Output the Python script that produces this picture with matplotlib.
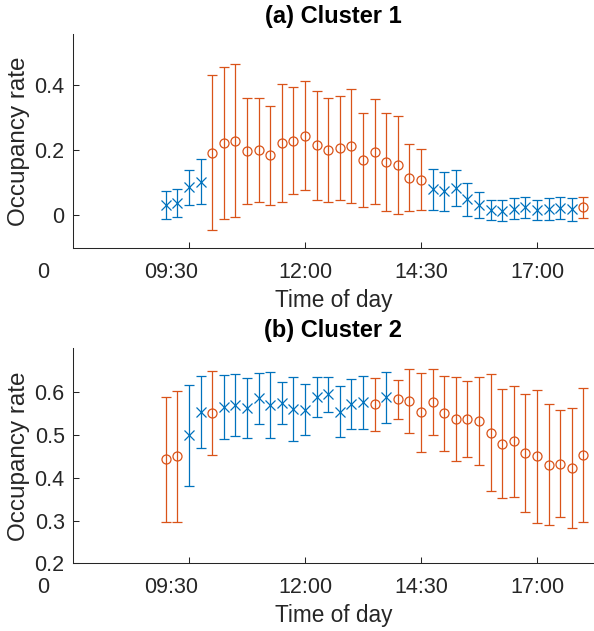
import numpy as np
import matplotlib
matplotlib.use("Agg")
import matplotlib.pyplot as plt
import matplotlib.transforms as mtransforms

plt.rcParams['font.family'] = ['Liberation Sans', 'DejaVu Sans']

# ---------------- data ----------------
times = ['09:00', '09:15', '09:30', '09:45', '10:00', '10:15', '10:30', '10:45',
         '11:00', '11:15', '11:30', '11:45', '12:00', '12:15', '12:30', '12:45',
         '13:00', '13:15', '13:30', '13:45', '14:00', '14:15', '14:30', '14:45',
         '15:00', '15:15', '15:30', '15:45', '16:00', '16:15', '16:30', '16:45',
         '17:00', '17:15', '17:30', '17:45', '18:00']

# Cluster 1
mean1 = [0.031, 0.039, 0.087, 0.103, 0.193, 0.222, 0.229, 0.197, 0.200, 0.184,
         0.222, 0.229, 0.245, 0.215, 0.200, 0.206, 0.212, 0.170, 0.196, 0.164,
         0.154, 0.116, 0.110, 0.080, 0.074, 0.085, 0.049, 0.032, 0.017, 0.015,
         0.021, 0.025, 0.017, 0.020, 0.022, 0.019, 0.025]
err1 = [0.043, 0.043, 0.054, 0.069, 0.237, 0.233, 0.235, 0.163, 0.160, 0.153,
        0.180, 0.164, 0.167, 0.168, 0.160, 0.160, 0.175, 0.144, 0.161, 0.149,
        0.150, 0.103, 0.094, 0.062, 0.060, 0.055, 0.050, 0.039, 0.031, 0.031,
        0.032, 0.033, 0.030, 0.033, 0.034, 0.036, 0.032]
group1 = (['x'] * 4) + (['o'] * 19) + (['x'] * 13) + (['o'] * 1)

# Cluster 2
mean2 = [0.443, 0.450, 0.499, 0.554, 0.552, 0.566, 0.570, 0.563, 0.586, 0.570,
         0.575, 0.561, 0.559, 0.589, 0.595, 0.555, 0.573, 0.577, 0.572, 0.588,
         0.584, 0.580, 0.553, 0.577, 0.551, 0.538, 0.538, 0.533, 0.506, 0.480,
         0.485, 0.458, 0.450, 0.431, 0.433, 0.423, 0.453]
err2 = [0.146, 0.153, 0.118, 0.085, 0.099, 0.075, 0.073, 0.071, 0.060, 0.078,
        0.050, 0.076, 0.060, 0.046, 0.042, 0.060, 0.058, 0.062, 0.062, 0.060,
        0.046, 0.074, 0.093, 0.078, 0.088, 0.098, 0.089, 0.102, 0.137, 0.127,
        0.129, 0.138, 0.155, 0.142, 0.125, 0.141, 0.157]
group2 = ['o', 'o', 'x', 'x', 'o'] + (['x'] * 13) + ['o', 'x'] + (['o'] * 17)

xtick_labels = ['0', '09:30', '12:00', '14:30', '17:00']
titles = ['(a) Cluster 1', '(b) Cluster 2']
ylims = [(-0.1, 0.557), (0.2, 0.703)]
yticks = [[0, 0.2, 0.4], [0.2, 0.3, 0.4, 0.5, 0.6]]
yticklabels = [['0', '0.2', '0.4'], ['0.2', '0.3', '0.4', '0.5', '0.6']]

# ---------------- plotting ----------------
BLUE = '#0072BD'
ORANGE = '#D95319'
AXC = '#262626'


def to_hours(t):
    h, m = t.split(':')
    return int(h) + int(m) / 60.0


x = np.array([to_hours(t) for t in times])

fig = plt.figure(figsize=(5.94, 6.31), dpi=100)
W, H = 594.0, 631.0
positions = [(73, 34, 594, 248), (73, 348.3, 594, 563.3)]

# label positions (hours) for the x tick texts
xtick_text_pos = [6.353, 9.112, 12.0, 14.5, 17.0]
xtick_marks = [9.5, 12.0, 14.5, 17.0]

datasets = [(mean1, err1, group1), (mean2, err2, group2)]

for i, (mean, err, grp) in enumerate(datasets):
    l, t, r, b = positions[i]
    ax = fig.add_axes([l / W, 1 - b / H, (r - l) / W, (b - t) / H])
    mean = np.array(mean)
    err = np.array(err)
    grp = np.array(grp)
    for kind, col in (('x', BLUE), ('o', ORANGE)):
        m = grp == kind
        ax.errorbar(x[m], mean[m], yerr=err[m], fmt='none', ecolor=col,
                    elinewidth=0.9, capsize=3.3, capthick=0.9, zorder=2)
        if kind == 'x':
            ax.plot(x[m], mean[m], linestyle='none', marker='x', color=col,
                    markersize=6.5, markeredgewidth=0.9, zorder=3)
        else:
            ax.plot(x[m], mean[m], linestyle='none', marker='o', color=col,
                    markerfacecolor='none', markersize=6.5,
                    markeredgewidth=0.9, zorder=3)

    ax.set_xlim(7.0, 18.228)
    ax.set_ylim(*ylims[i])
    ax.spines['top'].set_visible(False)
    ax.spines['right'].set_visible(False)
    for s in ('left', 'bottom'):
        ax.spines[s].set_color(AXC)
        ax.spines[s].set_linewidth(0.75)
    ax.tick_params(direction='in', length=4.3, width=0.75, color=AXC,
                   labelcolor=AXC, labelsize=15.5)
    ax.tick_params(axis='y', pad=6)
    ax.set_xticks(xtick_marks)
    ax.set_xticklabels([''] * len(xtick_marks))
    ax.set_yticks(yticks[i])
    ax.set_yticklabels(yticklabels[i])

    trans = mtransforms.blended_transform_factory(ax.transData, ax.transAxes)
    trans = trans + mtransforms.ScaledTranslation(0, -30 / 100.0, fig.dpi_scale_trans)
    for xp, lab in zip(xtick_text_pos, xtick_labels):
        ax.text(xp, 0, lab, transform=trans, ha='center', va='baseline',
                fontsize=15.5, color=AXC, clip_on=False)

    ax.set_xlabel('Time of day', fontsize=16.3, color=AXC)
    ax.xaxis.set_label_coords(0.5, -0.19)
    ax.set_ylabel('Occupancy rate', fontsize=17.5, color=AXC, labelpad=3.4)
    ax.set_title(titles[i], fontsize=17, fontweight='bold', color='black', pad=8)

fig.savefig('out.png', dpi=100)
